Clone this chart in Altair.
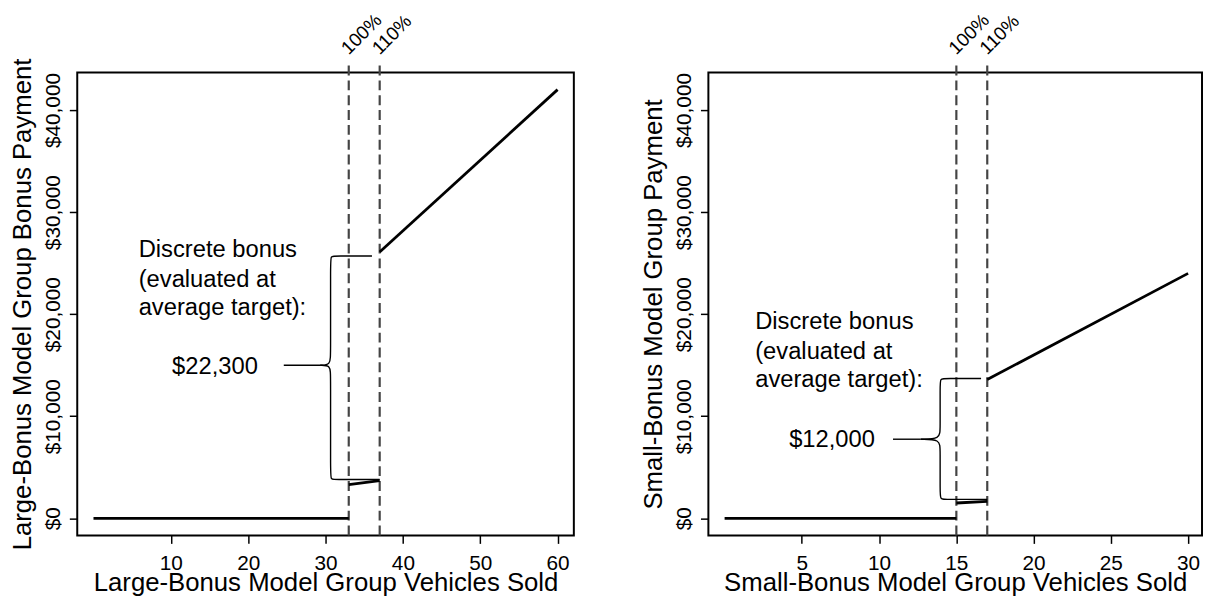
import altair as alt
import pandas as pd

FONT = "Liberation Sans"

# ---------------- shared values ----------------
Y_DOMAIN = [-1680, 43680]
Y_TICKS = [0, 10000, 20000, 30000, 40000]
DASH_TOP = 44700          # dashed target lines run a little above the box
TARGET_LABEL_Y = 45350    # where the rotated "100%" / "110%" labels start
TARGET_LABELS = ["100%", "110%"]
NOTE_LINES = ["Discrete bonus", "(evaluated at", "average target):"]

# ---------------- left panel: large-bonus ----------------
L_XTITLE = "Large-Bonus Model Group Vehicles Sold"
L_YTITLE = "Large-Bonus Model Group Bonus Payment"
L_XDOMAIN = [-2.1, 62.1]
L_XTICKS = [10, 20, 30, 40, 50, 60]
L_seg = ["zero", "zero", "step", "step", "rise", "rise"]
L_x = [0, 33, 33, 37, 37, 60]
L_y = [0, 0, 3300, 3700, 26100, 42000]
L_targets = [33, 37]
L_brace_half = ["up"] * 7 + ["low"] * 7
L_brace_x = [36.0, 31.3, 30.65, 30.65, 30.65, 30.65, 29.3,
             29.3, 30.65, 30.65, 30.65, 30.65, 31.3, 37.0]
L_brace_y = [25700, 25700, 25700, 25000, 16200, 15000, 15000,
             15000, 15000, 14000, 4500, 3800, 3800, 3800]
L_pointer_x = [24.6, 29.3]
L_pointer_y = [15000, 15000]
L_note_x = 5.84
L_note_y = [26280, 23380, 20640]
L_amount = "$22,300"
L_amount_x = 21.25
L_amount_y = 14830

# ---------------- right panel: small-bonus ----------------
R_XTITLE = "Small-Bonus Model Group Vehicles Sold"
R_YTITLE = "Small-Bonus Model Group Payment"
R_XDOMAIN = [-1.05, 30.9]
R_XTICKS = [5, 10, 15, 20, 25, 30]
R_seg = ["zero", "zero", "step", "step", "rise", "rise"]
R_x = [0, 15, 15, 17, 17, 30]
R_y = [0, 0, 1500, 1650, 13600, 24000]
R_targets = [15, 17]
R_brace_half = ["up"] * 7 + ["low"] * 7
R_brace_x = [16.6, 14.3, 13.95, 13.95, 13.95, 13.95, 12.7,
             12.7, 13.95, 13.95, 13.95, 13.95, 14.3, 17.0]
R_brace_y = [13700, 13700, 13700, 13000, 8800, 7750, 7750,
             7750, 7750, 6700, 2600, 1850, 1850, 1850]
R_pointer_x = [10.9, 12.7]
R_pointer_y = [7750, 7750]
R_note_x = 1.98
R_note_y = [19180, 16270, 13520]
R_amount = "$12,000"
R_amount_x = 9.73
R_amount_y = 7710

W_LEFT, W_RIGHT, H = 502, 499, 468


def panel(xdomain, xticks, xtitle, ytitle, seg, xs, ys, targets,
          bhalf, bx, by, px, py, note_x, note_y, amount, ax, ay, width):
    xs_ = alt.Scale(domain=xdomain, nice=False, zero=False)
    ys_ = alt.Scale(domain=Y_DOMAIN, nice=False, zero=False)
    x_axis = alt.Axis(values=xticks, title=xtitle, titleY=56,
                      titleBaseline="alphabetic", labelPadding=9,
                      labelBaseline="top")
    y_axis = alt.Axis(values=Y_TICKS, format="$,.0f", title=ytitle,
                      labelAngle=270, labelAlign="center",
                      labelBaseline="alphabetic", labelPadding=10,
                      titleAngle=270, titleAlign="center",
                      titleBaseline="alphabetic", titleX=-47, titleY=H / 2)

    def X(f):
        return alt.X(f, type="quantitative", scale=xs_, axis=x_axis)

    def Y(f):
        return alt.Y(f, type="quantitative", scale=ys_, axis=y_axis)

    df_lines = pd.DataFrame({"seg": seg, "x": xs, "y": ys})
    df_t = pd.DataFrame({"x": targets, "lo": [Y_DOMAIN[0]] * 2,
                         "hi": [DASH_TOP] * 2, "ly": [TARGET_LABEL_Y] * 2,
                         "lab": TARGET_LABELS})
    df_b = pd.DataFrame({"half": bhalf, "x": bx, "y": by,
                         "i": list(range(len(bx)))})
    df_p = pd.DataFrame({"x": px, "y": py})
    df_n = pd.DataFrame({"x": [note_x] * len(NOTE_LINES), "y": note_y,
                         "t": NOTE_LINES})
    df_a = pd.DataFrame({"x": [ax], "y": [ay], "t": [amount]})

    rules = alt.Chart(df_t).mark_rule(
        color="#444444", strokeWidth=2.2, strokeDash=[10, 5]
    ).encode(x=X("x"), y=Y("lo"), y2="hi")
    lines = alt.Chart(df_lines).mark_line(
        color="black", strokeWidth=2.8, strokeCap="butt"
    ).encode(x=X("x"), y=Y("y"), detail="seg:N")
    brace = alt.Chart(df_b).mark_line(
        color="black", strokeWidth=1.4, interpolate="basis"
    ).encode(x=X("x"), y=Y("y"), detail="half:N", order="i:Q")
    pointer = alt.Chart(df_p).mark_line(color="black", strokeWidth=1.4).encode(
        x=X("x"), y=Y("y"))
    tlabels = alt.Chart(df_t).mark_text(
        angle=315, align="left", baseline="alphabetic", fontSize=19,
        font=FONT, color="black"
    ).encode(x=X("x"), y=Y("ly"), text="lab:N")
    notes = alt.Chart(df_n).mark_text(
        align="left", baseline="middle", fontSize=24, font=FONT, color="black"
    ).encode(x=X("x"), y=Y("y"), text="t:N")
    amt = alt.Chart(df_a).mark_text(
        align="right", baseline="middle", fontSize=24, font=FONT, color="black"
    ).encode(x=X("x"), y=Y("y"), text="t:N")
    return alt.layer(rules, lines, brace, pointer, tlabels, notes, amt).properties(
        width=width, height=H)


left = panel(L_XDOMAIN, L_XTICKS, L_XTITLE, L_YTITLE, L_seg, L_x, L_y, L_targets,
             L_brace_half, L_brace_x, L_brace_y, L_pointer_x, L_pointer_y,
             L_note_x, L_note_y, L_amount, L_amount_x, L_amount_y, W_LEFT)
right = panel(R_XDOMAIN, R_XTICKS, R_XTITLE, R_YTITLE, R_seg, R_x, R_y, R_targets,
              R_brace_half, R_brace_x, R_brace_y, R_pointer_x, R_pointer_y,
              R_note_x, R_note_y, R_amount, R_amount_x, R_amount_y, W_RIGHT)

chart = alt.hconcat(left, right, spacing=65).properties(
    padding={"left": 0, "top": -2, "right": 0, "bottom": -4}
).configure_view(
    stroke="black", strokeWidth=2
).configure_axis(
    domain=False, grid=False, ticks=True, tickColor="black", tickWidth=1.5,
    tickSize=8, labelFont=FONT, labelFontSize=21, labelColor="black",
    titleFont=FONT, titleFontSize=26, titleColor="black",
    titleFontWeight="normal"
)

chart.save("out.html", embed_options={"renderer": "svg", "actions": False})
